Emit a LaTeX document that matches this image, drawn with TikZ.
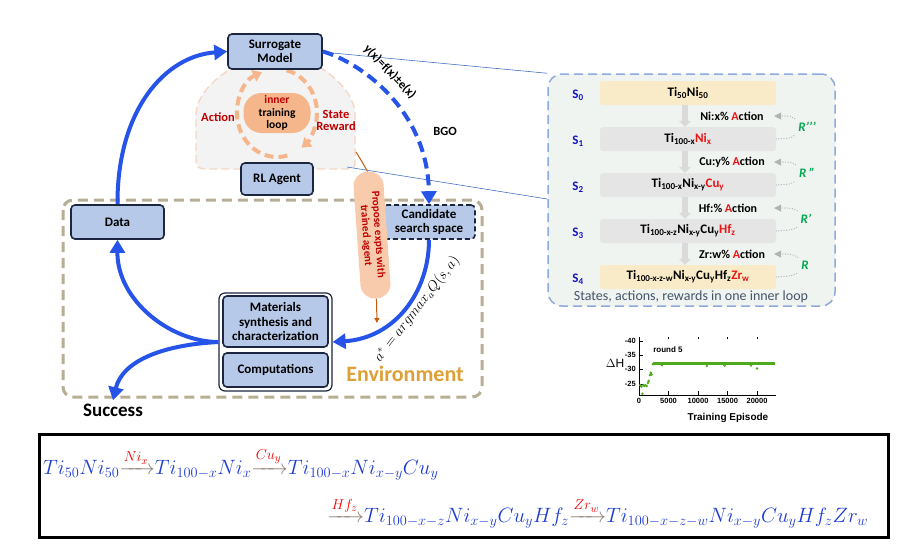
\documentclass[tikz,border=0pt]{standalone}
\usepackage[no-math]{fontspec}
\setmainfont{Carlito}
\newfontfamily\plotfont{Liberation Sans}
\usepackage{amsmath}
\usetikzlibrary{arrows.meta}

\definecolor{boxfill}{RGB}{183,201,232}
\definecolor{boxline}{RGB}{28,38,64}
\definecolor{flowblue}{RGB}{38,84,232}
\definecolor{envtan}{RGB}{184,174,150}
\definecolor{envgold}{RGB}{222,160,52}
\definecolor{looporange}{RGB}{245,182,140}
\definecolor{darkred}{RGB}{192,0,0}
\definecolor{zonefill}{RGB}{243,243,243}
\definecolor{zoneline}{RGB}{246,214,196}
\definecolor{linkblue}{RGB}{68,114,196}
\definecolor{panelfill}{RGB}{240,244,241}
\definecolor{panelline}{RGB}{143,170,220}
\definecolor{sblue}{RGB}{20,20,200}
\definecolor{panelred}{RGB}{235,20,20}
\definecolor{stateyellow}{RGB}{249,234,200}
\definecolor{stategray}{RGB}{229,229,229}
\definecolor{stepgray}{RGB}{218,218,218}
\definecolor{rgreen}{RGB}{0,168,80}
\definecolor{captiongray}{RGB}{68,84,106}
\definecolor{plotgreen}{RGB}{80,170,30}
\definecolor{eqblue}{RGB}{30,60,210}
\definecolor{eqred}{RGB}{232,0,0}
\definecolor{eqarrow}{RGB}{140,125,118}
\definecolor{proposefill}{RGB}{248,203,173}
\definecolor{brownline}{RGB}{197,90,17}

\begin{document}
\begin{tikzpicture}[x=1pt,y=-1pt,
    block/.style={draw=boxline, fill=boxfill, line width=1.6pt, rounded corners=4pt,
      align=center, inner sep=1pt, font=\bfseries\fontsize{13}{14.5}\selectfont},
    flow/.style={draw=flowblue, line width=4pt, -{Triangle[length=13pt,width=15pt]}},
    link/.style={draw=linkblue, line width=0.6pt},
    statebox/.style={rounded corners=3pt, minimum width=176pt, minimum height=24pt,
      inner sep=0pt, font=\bfseries\fontsize{13}{14}\selectfont},
    slabel/.style={text=sblue, font=\bfseries\fontsize{13}{14}\selectfont},
    actlabel/.style={font=\bfseries\fontsize{12}{13}\selectfont},
    rlabel/.style={text=rgreen, font=\bfseries\itshape\fontsize{13}{14}\selectfont},
    rdot/.style={draw=black!30, line width=1.3pt, line cap=round, dash pattern=on 0pt off 2.6pt},
    downstep/.style={draw=stepgray, line width=6pt, -{Triangle[length=6pt,width=12pt]}},
    plotlabel/.style={font=\plotfont\bfseries\fontsize{7.5}{9}\selectfont, inner sep=1pt}]

\useasboundingbox (0,0) rectangle (918,550);

% inner training loop zone
\draw[fill=zonefill, draw=zoneline, line width=1.4pt, dash pattern=on 8pt off 4pt]
  (235,66) -- (318,66) .. controls (340,80) and (354,96) .. (355,114) -- (355,160)
  .. controls (355,168) .. (346,169) -- (206,169) .. controls (197,168) .. (196,160)
  -- (196,114) .. controls (197,96) and (212,80) .. (235,66) -- cycle;
\draw[looporange, line width=4pt, dash pattern=on 9pt off 5pt, -{Triangle[length=9pt,width=12pt]}]
  (277,113) ++(285:40pt and 44pt) arc[start angle=285, end angle=112, x radius=40pt, y radius=44pt];
\draw[looporange, line width=4pt, dash pattern=on 9pt off 5pt, -{Triangle[length=9pt,width=12pt]}]
  (277,113) ++(76:40pt and 44pt) arc[start angle=76, end angle=-52, x radius=40pt, y radius=44pt];
\node[fill=looporange, rounded corners=18pt, minimum width=67pt, minimum height=40pt, inner sep=0pt,
  align=center, font=\bfseries\fontsize{11.5}{12.5}\selectfont] (inner) at (277,113)
  {\textcolor{darkred}{inner}\\training\\loop};
\node[text=darkred, font=\bfseries\fontsize{12.5}{13.5}\selectfont] (action) at (218,117) {Action};
\node[text=darkred, align=center, font=\bfseries\fontsize{12.5}{12}\selectfont] (reward) at (336,120) {State\\Reward};

% environment
\draw[envtan, line width=3pt, dash pattern=on 10pt off 6pt, rounded corners=10pt] (63,200) rectangle (482,397);
\node[text=envgold, font=\bfseries\fontsize{22}{24}\selectfont] (env) at (405,374) {Environment};

% links to the inner loop panel
\coordinate (zonecorner) at (347,167);
\node[fill=panelfill, draw=panelline, line width=1.5pt, dash pattern=on 9pt off 5pt, rounded corners=14pt,
  minimum width=287pt, minimum height=232pt] (panel) at (691.5,190) {};
\draw[link] (322,52) -- (panel.north west);
\draw[link] (zonecorner) -- ([yshift=-9pt]panel.west);

% boxes
\node[block, minimum width=94pt, minimum height=35pt] (sur) at (275,51.5) {Surrogate\\Model};
\node[block, minimum width=72pt, minimum height=32pt] (agent) at (277,179) {RL Agent};
\node[block, minimum width=93pt, minimum height=34pt] (data) at (117.5,222) {Data};
\node[block, minimum width=92pt, minimum height=34pt, dash pattern=on 5pt off 3pt] (cand) at (429,222) {Candidate\\search space};
\node[draw=boxline, fill=white, line width=1.2pt, rounded corners=6pt, minimum width=113pt, minimum height=98pt] (mat) at (275.5,342) {};
\node[block, minimum width=105pt, minimum height=51pt] (synth) at (275.5,321.5) {Materials\\synthesis and\\characterization};
\node[block, minimum width=105pt, minimum height=34pt] (comp) at (275.5,370) {Computations};
\node[font=\bfseries\fontsize{19}{21}\selectfont] (success) at (113,410) {Success};

% propose experiments
\node[fill=proposefill, rounded corners=14pt, rotate=-86, minimum width=127pt, minimum height=30pt,
  inner sep=1pt, align=center, text=darkred, font=\bfseries\fontsize{11}{12}\selectfont] (propose) at (372,235)
  {Propose expts with\\trained agent};
\coordinate (zoneedge) at (356,152);
\coordinate (proposeend) at (377,323);
\draw[brownline, line width=1pt] (zoneedge) .. controls (361,160) .. (propose.west);
\draw[brownline, line width=1pt, -{Triangle[length=5pt,width=5pt]}] (propose.east) -- (proposeend);

% blue flows
\draw[flow] (data.north) .. controls (117,110) and (165,56) .. (sur.west);
\draw[flow, dash pattern=on 11pt off 6pt] (sur.east) .. controls (360,62) and (428,110) .. (cand.north);
\draw[flow] (cand.south) .. controls (429,292) and (395,338) .. (mat.east);
\draw[flow] (mat.west) .. controls (170,342) and (117,300) .. (data.south);
\draw[flow] (mat.west) .. controls (160,345) and (122,362) .. (success.north);
\node[rotate=-46, font=\bfseries\fontsize{12.5}{13}\selectfont] (bgoeq) at (390,72) {y(x)=f(x)±e(x)};
\node[font=\bfseries\fontsize{12.5}{13}\selectfont] (bgo) at (445,131) {BGO};
\node[rotate=52, font=\fontsize{14}{16}\selectfont] (policy) at (417,309) {$a^{*}=argmax_{a}Q(s,a)$};

% states, actions, rewards
\node[statebox, fill=stateyellow] (s0box) at (688,93) {Ti\textsubscript{50}Ni\textsubscript{50}};
\node[statebox, fill=stategray] (s1box) at (688,139) {Ti\textsubscript{100-x}\textcolor{panelred}{Ni\textsubscript{x}}};
\node[statebox, fill=stategray] (s2box) at (688,185) {Ti\textsubscript{100-x}Ni\textsubscript{x-y}\textcolor{panelred}{Cu\textsubscript{y}}};
\node[statebox, fill=stategray] (s3box) at (688,231) {Ti\textsubscript{100-x-z}Ni\textsubscript{x-y}Cu\textsubscript{y}\textcolor{panelred}{Hf\textsubscript{z}}};
\node[statebox, fill=stateyellow] (s4box) at (688,277) {Ti\textsubscript{100-x-z-w}Ni\textsubscript{x-y}Cu\textsubscript{y}Hf\textsubscript{z}\textcolor{panelred}{Zr\textsubscript{w}}};
\node[slabel] (s0) at (578,95) {S\textsubscript{0}};
\node[slabel] (s1) at (578,141) {S\textsubscript{1}};
\node[slabel] (s2) at (578,187) {S\textsubscript{2}};
\node[slabel] (s3) at (578,233) {S\textsubscript{3}};
\node[slabel] (s4) at (578,279) {S\textsubscript{4}};
\draw[downstep] ([xshift=-3pt]s0box.south) -- ([xshift=-3pt]s1box.north);
\draw[downstep] ([xshift=-3pt]s1box.south) -- ([xshift=-3pt]s2box.north);
\draw[downstep] ([xshift=-3pt]s2box.south) -- ([xshift=-3pt]s3box.north);
\draw[downstep] ([xshift=-3pt]s3box.south) -- ([xshift=-3pt]s4box.north);
\node[actlabel] (act1) at (732,116) {Ni:x\% \textcolor{panelred}{A}ction};
\node[actlabel] (act2) at (732,162) {Cu:y\% \textcolor{panelred}{A}ction};
\node[actlabel] (act3) at (728,208) {Hf:\% \textcolor{panelred}{A}ction};
\node[actlabel] (act4) at (732,254) {Zr:w\% \textcolor{panelred}{A}ction};
\node[rlabel] (r3) at (807,127) {R{'}{'}{'}};
\node[rlabel] (r2) at (807,173) {R ''};
\node[rlabel] (r1) at (806,219) {R'};
\node[rlabel] (r0) at (805,265) {R};
\draw[rdot] (s1box.east) .. controls (792,138) .. (r3.south west);
\draw[rdot] (r3.north west) .. controls (792,116) .. (778,116);
\draw[rdot] (s2box.east) .. controls (792,184) .. (r2.south west);
\draw[rdot] (r2.north west) .. controls (792,162) .. (778,162);
\draw[rdot] (s3box.east) .. controls (792,230) .. (r1.south west);
\draw[rdot] (r1.north west) .. controls (792,208) .. (778,208);
\draw[rdot] (s4box.east) .. controls (792,276) .. (r0.south west);
\draw[rdot] (r0.north west) .. controls (792,254) .. (778,254);
\fill[black!30] (774,116) -- (781,112.5) -- (781,119.5) -- cycle;
\fill[black!30] (774,162) -- (781,158.5) -- (781,165.5) -- cycle;
\fill[black!30] (774,208) -- (781,204.5) -- (781,211.5) -- cycle;
\fill[black!30] (774,254) -- (781,250.5) -- (781,257.5) -- cycle;
\node[text=captiongray, font=\fontsize{14}{16}\selectfont] (caption) at (691,297) {States, actions, rewards in one inner loop};

% training curve
\draw[line width=0.8pt] (639,337) -- (639,395) -- (776,395);
\draw (639,340.7) -- (643,340.7);
\draw (639,355.1) -- (643,355.1);
\draw (639,369.4) -- (643,369.4);
\draw (639,383.8) -- (643,383.8);
\draw (668.5,395) -- (668.5,391);
\draw (698,395) -- (698,391);
\draw (727.5,395) -- (727.5,391);
\draw (757,395) -- (757,391);
\draw (668.5,337) -- (668.5,339);
\draw (698,337) -- (698,339);
\draw (727.5,337) -- (727.5,339);
\draw (757,337) -- (757,339);
\node[plotlabel, anchor=east] (ym40) at (637,340.7) {-40};
\node[plotlabel, anchor=east] (ym35) at (637,355.1) {-35};
\node[plotlabel, anchor=east] (ym30) at (637,369.4) {-30};
\node[plotlabel, anchor=east] (ym25) at (637,383.8) {-25};
\node[plotlabel, anchor=north] (x0) at (639,397) {0};
\node[plotlabel, anchor=north] (x5) at (668.5,397) {5000};
\node[plotlabel, anchor=north] (x10) at (698,397) {10000};
\node[plotlabel, anchor=north] (x15) at (727.5,397) {15000};
\node[plotlabel, anchor=north] (x20) at (757,397) {20000};
\node[font=\plotfont\fontsize{12}{13}\selectfont] (dh) at (615,363) {$\Delta$H};
\node[font=\plotfont\bfseries\fontsize{8}{9}\selectfont] (round) at (668,350) {round 5};
\node[font=\plotfont\bfseries\fontsize{10}{11}\selectfont] (episode) at (728,418) {Training Episode};
\draw[plotgreen, line width=2.6pt] (653,363.7) -- (775,363.7);
\fill[plotgreen] (640.2,385.2) circle (1.4pt) (641.4,386.6) circle (1.4pt) (642.5,393.8) circle (1.4pt)
  (643.4,385.2) circle (1.4pt) (644.3,385.8) circle (1.4pt) (645.5,385.2) circle (1.4pt)
  (646.7,386.0) circle (1.4pt) (647.9,382.9) circle (1.4pt) (648.7,380.9) circle (1.4pt)
  (649.9,375.1) circle (1.4pt) (650.8,372.8) circle (1.4pt) (651.7,374.6) circle (1.4pt)
  (652.9,364.2) circle (1.4pt) (757,368.5) circle (1.4pt) (706.9,365.8) circle (1.4pt)
  (724.6,365.5) circle (1.4pt) (751,365.5) circle (1.4pt) (662,365.2) circle (1.4pt);

% composition path
\draw[line width=3pt] (39,434) rectangle (888,537);
\node[anchor=base west, text=eqblue, font=\fontsize{21.5}{24}\selectfont, inner sep=0pt] (eqone) at (43,474)
  {$Ti_{50}Ni_{50}{\color{eqarrow}\xrightarrow{\textcolor{eqred}{Ni_x}}}Ti_{100-x}Ni_x{\color{eqarrow}\xrightarrow{\textcolor{eqred}{Cu_y}}}Ti_{100-x}Ni_{x-y}Cu_y$};
\node[anchor=base west, text=eqblue, font=\fontsize{21.5}{24}\selectfont, inner sep=0pt] (eqtwo) at (327,522)
  {${\color{eqarrow}\xrightarrow{\textcolor{eqred}{Hf_z}}}Ti_{100-x-z}Ni_{x-y}Cu_yHf_z{\color{eqarrow}\xrightarrow{\textcolor{eqred}{Zr_w}}}Ti_{100-x-z-w}Ni_{x-y}Cu_yHf_zZr_w$};
\end{tikzpicture}
\end{document}
